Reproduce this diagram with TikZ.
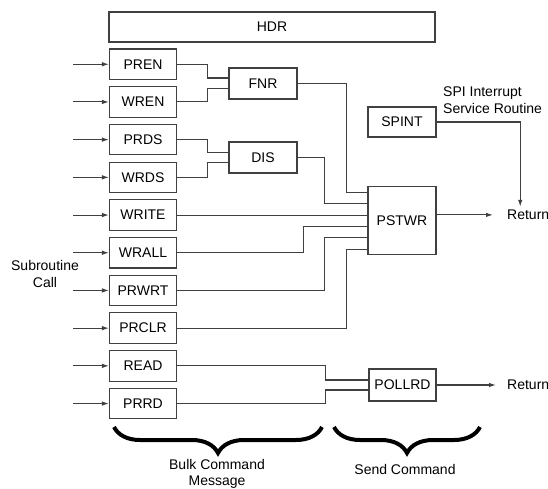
\documentclass[tikz,border=0pt]{standalone}
\usepackage{fontspec}
\setmainfont{Liberation Sans}
\usetikzlibrary{arrows.meta,decorations.pathreplacing,calc}
\tikzset{
  every node/.style={font=\fontsize{14pt}{17pt}\selectfont, text=black},
  box/.style={draw=black!75, line width=1.1pt, minimum width=67pt, minimum height=30.5pt, inner sep=0pt},
  wire/.style={draw=black!75, line width=1.1pt},
  arr/.style={wire, -{Latex[length=7pt,width=4.5pt]}},
  lbl/.style={inner sep=0pt, align=center},
  bigbrace/.style={draw=black, line width=4pt, decorate, decoration={brace, mirror, amplitude=26pt}}
}
\begin{document}
\begin{tikzpicture}[x=1pt,y=-1pt]
\useasboundingbox (0,0) rectangle (548,489);
% header
\node[box, minimum width=326pt, minimum height=30pt] (hdr) at (272,27) {HDR};
% left column
\node[box] (pren)  at (143,64.25)  {PREN};
\node[box] (wren)  at (143,101.95) {WREN};
\node[box] (prds)  at (143,139.65) {PRDS};
\node[box] (wrds)  at (143,177.35) {WRDS};
\node[box] (write) at (143,215.05) {WRITE};
\node[box] (wrall) at (143,252.75) {WRALL};
\node[box] (prwrt) at (143,290.45) {PRWRT};
\node[box] (prclr) at (143,328.15) {PRCLR};
\node[box] (read)  at (143,365.85) {READ};
\node[box] (prrd)  at (143,403.55) {PRRD};
% middle
\node[box, minimum width=68pt, minimum height=31pt] (fnr) at (263,83.5) {FNR};
\node[box, minimum width=68pt, minimum height=31pt] (dis) at (263,157.5) {DIS};
\node[box, minimum width=68pt, minimum height=68pt] (pstwr) at (402,220.6) {PSTWR};
\node[box, minimum width=68pt, minimum height=30pt] (spint) at (402,122) {SPINT};
\node[box, minimum width=67pt, minimum height=32pt] (pollrd) at (402.5,385) {POLLRD};
% labels
\node[lbl, anchor=west] (ret1) at (507,214.9) {Return};
\node[lbl, anchor=west] (ret2) at (507,385) {Return};
\node[lbl, anchor=west, align=left] (spi) at (443,100.5) {SPI Interrupt\\Service Routine};
\node[lbl] (sub) at (45,273.5) {Subroutine\\Call};
\node[lbl, font=\fontsize{14pt}{16pt}\selectfont] (bulk) at (217,474) {Bulk Command\\Message};
\node[lbl] (send) at (405,469) {Send Command};
% input arrows
\foreach \n in {pren,wren,prds,wrds,write,wrall,prwrt,prclr,read,prrd}
  \draw[arr] ([xshift=-36pt]\n.west) -- (\n.west);
% FNR inputs
\draw[wire] (pren.east) -| ([xshift=-21pt,yshift=5.5pt]fnr.west) -- ([yshift=5.5pt]fnr.west);
\draw[wire] (wren.east) -| ([xshift=-21pt,yshift=-5pt]fnr.west) -- ([yshift=-5pt]fnr.west);
% DIS inputs
\draw[wire] (prds.east) -| ([xshift=-21pt,yshift=5pt]dis.west) -- ([yshift=5pt]dis.west);
\draw[wire] (wrds.east) -| ([xshift=-21pt,yshift=-5pt]dis.west) -- ([yshift=-5pt]dis.west);
% PSTWR inputs
\draw[wire] (fnr.east) -| ([xshift=-21pt,yshift=28.5pt]pstwr.west) -- ([yshift=28.5pt]pstwr.west);
\draw[wire] (dis.east) -| ([xshift=-43pt,yshift=17.1pt]pstwr.west) -- ([yshift=17.1pt]pstwr.west);
\draw[wire] (write.east) -- (write.east -| pstwr.west);
\draw[wire] (wrall.east) -| ([xshift=-64pt,yshift=-5.7pt]pstwr.west) -- ([yshift=-5.7pt]pstwr.west);
\draw[wire] (prwrt.east) -| ([xshift=-43pt,yshift=-17.1pt]pstwr.west) -- ([yshift=-17.1pt]pstwr.west);
\draw[wire] (prclr.east) -| ([xshift=-21pt,yshift=-28.5pt]pstwr.west) -- ([yshift=-28.5pt]pstwr.west);
% POLLRD inputs
\draw[wire] (read.east) -| ([xshift=-43pt,yshift=5pt]pollrd.west) -- ([yshift=5pt]pollrd.west);
\draw[wire] (prrd.east) -| ([xshift=-43pt,yshift=-5pt]pollrd.west) -- ([yshift=-5pt]pollrd.west);
% outputs
\draw[arr] (pstwr.east |- ret1.west) -- ([xshift=-14pt]ret1.west);
\draw[arr] (pollrd.east |- ret2.west) -- ([xshift=-11pt]ret2.west);
\draw[arr] (spint.east) -| ([xshift=-8pt,yshift=3pt]ret1.north);
% braces
\draw[bigbrace] (114,427) -- (322,427);
\draw[bigbrace] (334,427) -- (480,427);
\end{tikzpicture}
\end{document}
